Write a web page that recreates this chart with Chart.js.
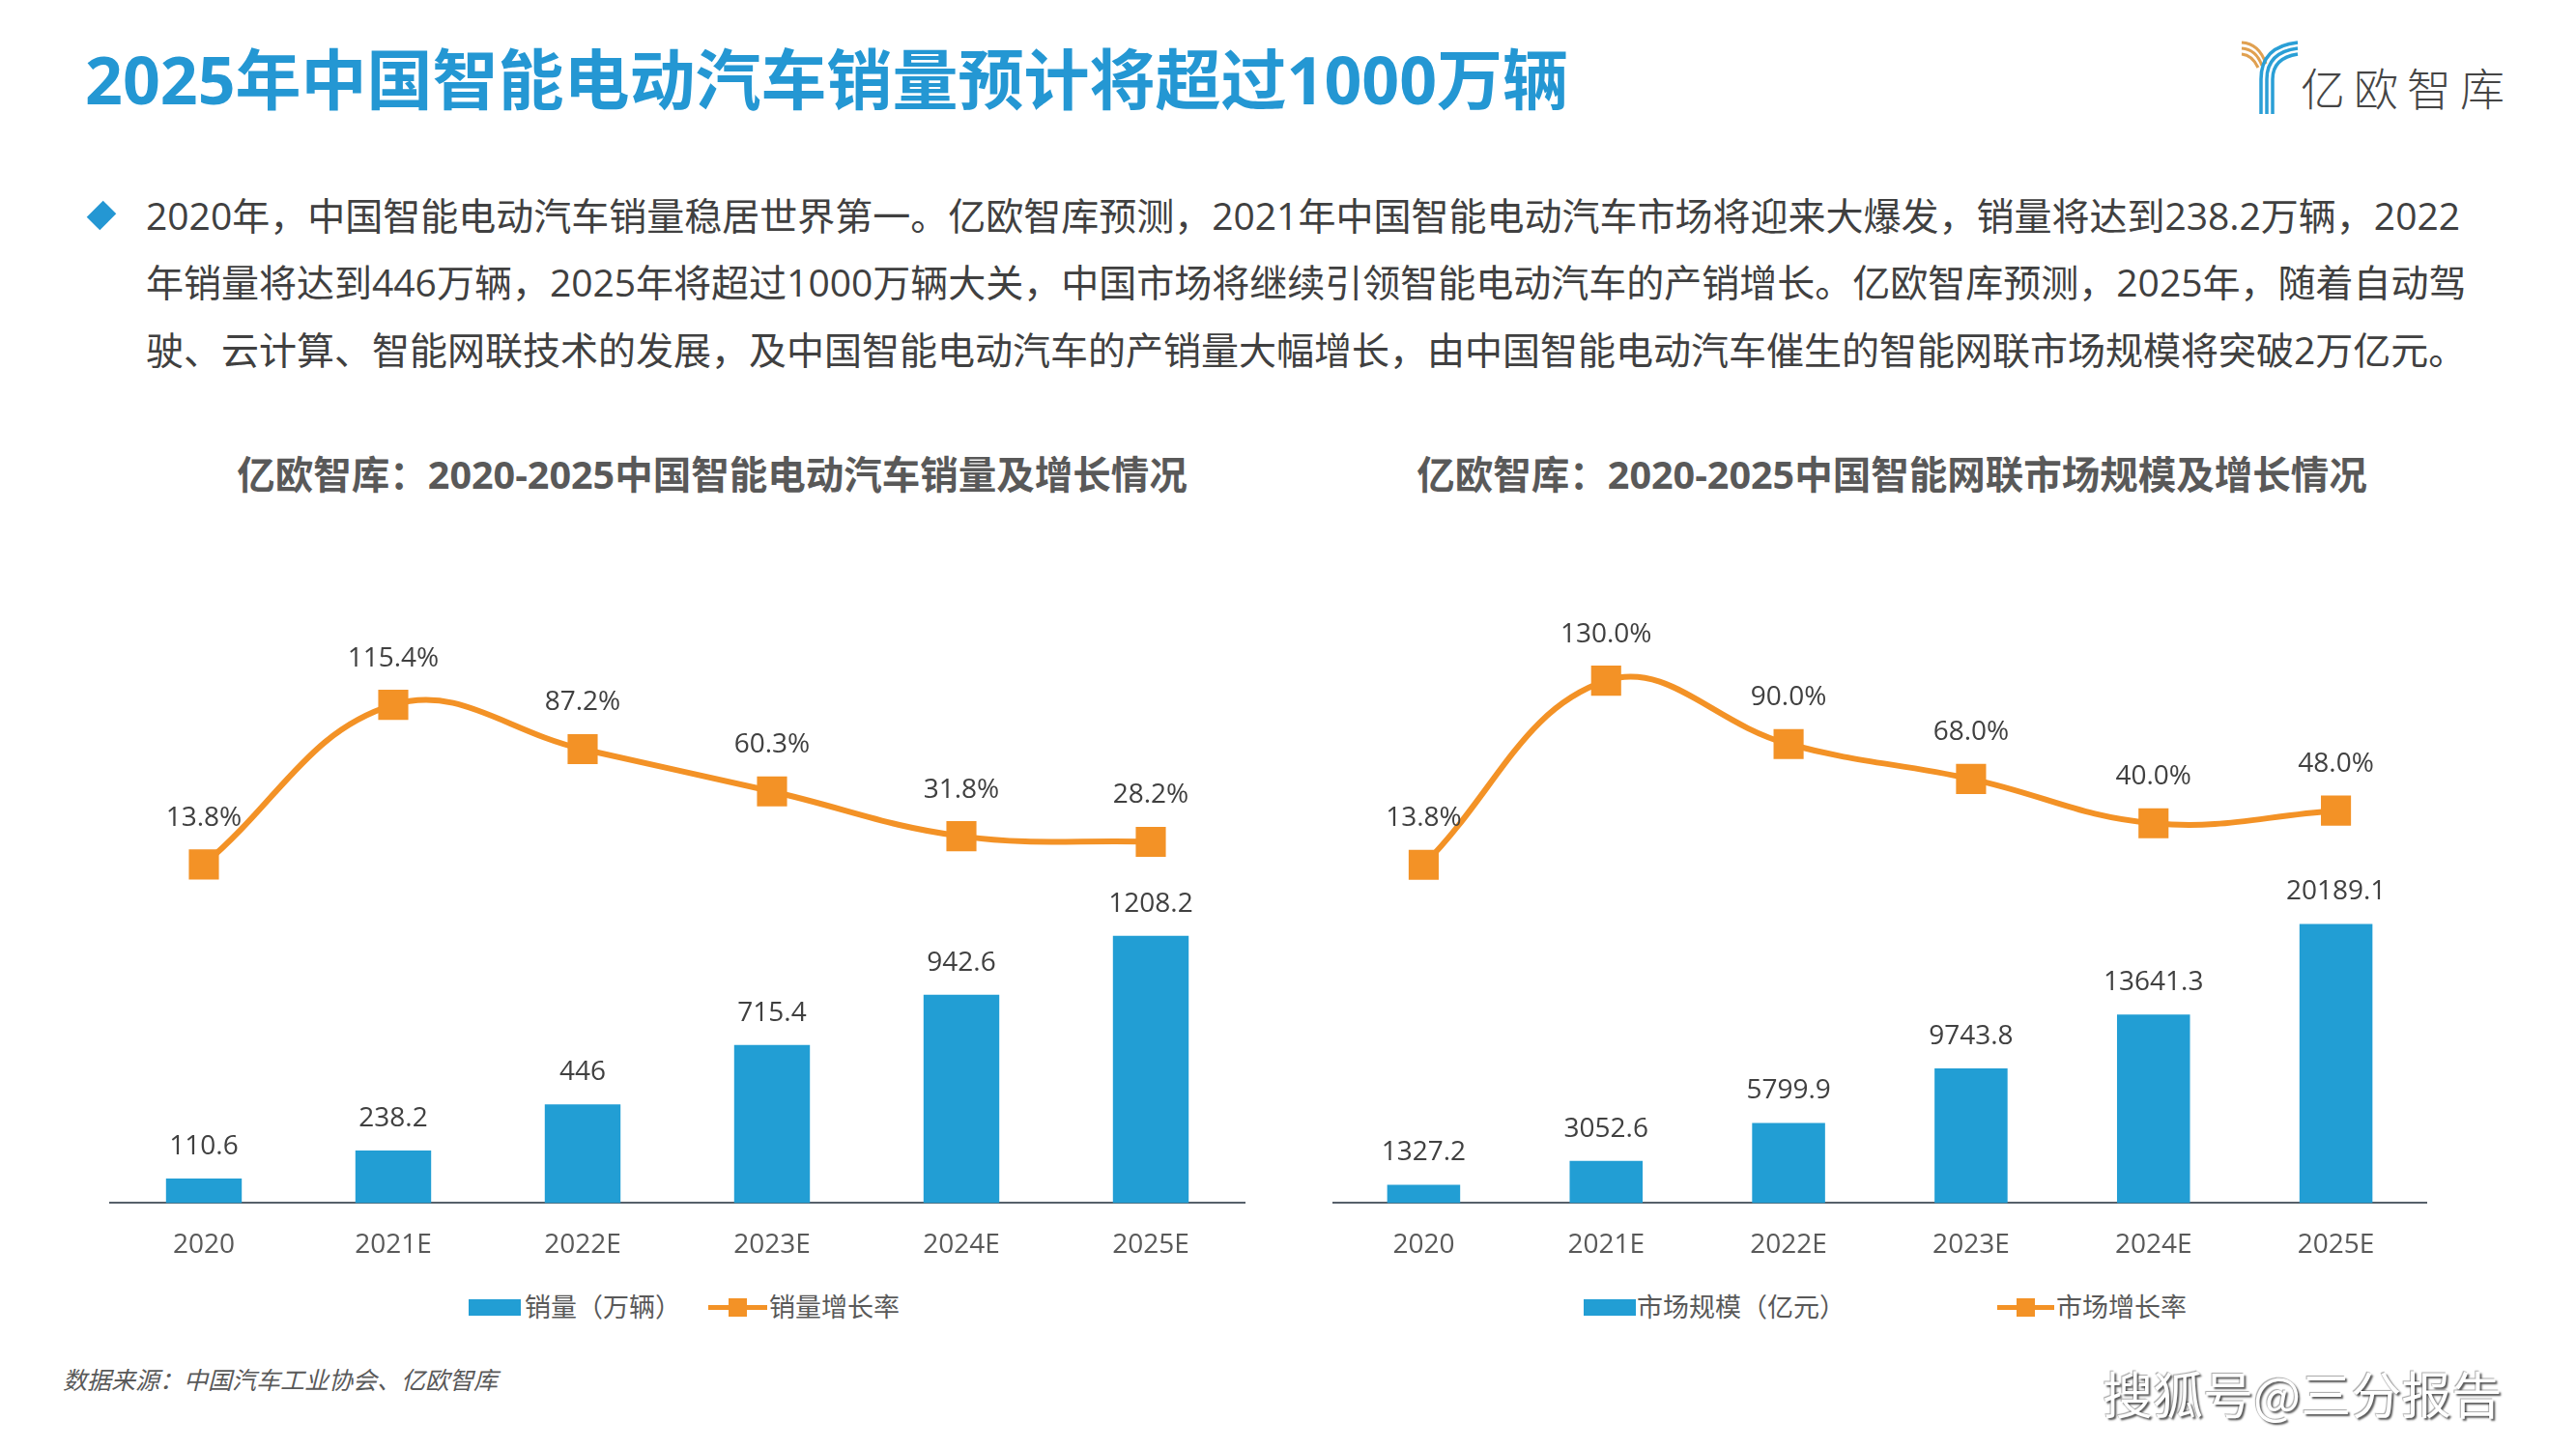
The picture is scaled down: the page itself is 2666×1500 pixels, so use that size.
<!DOCTYPE html>
<html>
<head>
<meta charset="utf-8">
<script src="https://cdn.jsdelivr.net/npm/chart.js@4.4.1/dist/chart.umd.min.js"></script>
<style>
html,body{margin:0;padding:0;background:#ffffff;}
body{width:2666px;height:1500px;position:relative;overflow:hidden;font-family:"Open Sans","Noto Sans CJK SC",sans-serif;}
.abs{position:absolute;white-space:nowrap;}
#title{left:88px;top:48px;font-size:68px;font-weight:700;color:#2497D3;line-height:68px;}
#logoText{left:2381px;top:64px;font-family:"Noto Sans CJK SC",sans-serif;font-weight:300;font-size:46px;line-height:50px;letter-spacing:9px;color:#454545;}
#bullet{left:93px;top:211px;width:24px;height:24px;background:#2497D3;transform:rotate(45deg) scaleX(0.8);}
.body{left:151px;font-size:39px;line-height:70px;color:#404040;}
.just{width:2394px;text-align:justify;text-align-last:justify;}
.ctitle{font-size:39.5px;font-weight:700;color:#595959;line-height:44px;transform:translateX(-50%);}
.legText{font-size:27px;color:#595959;line-height:34px;top:1336px;}
.legBox{top:1345px;width:54px;height:17px;background:#229ED4;}
.legLine{top:1351px;height:5px;background:#F39226;}
.legSq{top:1344px;width:19px;height:19px;background:#F39226;}
#source{left:65px;top:1412px;font-size:25px;font-style:italic;color:#595959;line-height:32px;}
#wm{left:2176px;top:1412px;font-size:52px;line-height:60px;color:#ffffff;font-family:"Noto Sans CJK SC",sans-serif;text-shadow:2px 2px 2px rgba(0,0,0,0.65),-1px -1px 1px rgba(0,0,0,0.35);}
.chartBox{position:absolute;}
</style>
</head>
<body>
<div id="title" class="abs">2025年中国智能电动汽车销量预计将超过1000万辆</div>

<svg class="abs" style="left:2318px;top:40px" width="66" height="80" viewBox="0 0 66 80">
  <g fill="none" stroke-linecap="butt">
    <path d="M2 4 Q20 5 27 26" stroke="#E0A050" stroke-width="3"/>
    <path d="M2 10 Q17 11 23 28" stroke="#E0A050" stroke-width="3"/>
    <path d="M2 16 Q13 17 19 30" stroke="#E0A050" stroke-width="3"/>
    <path d="M22 78 L22 42 Q22 8 60 4" stroke="#2A9FD6" stroke-width="3.5"/>
    <path d="M28 78 L28 42 Q28 14 60 10" stroke="#2A9FD6" stroke-width="3.5"/>
    <path d="M34 78 L34 42 Q34 20 60 16" stroke="#2A9FD6" stroke-width="3.5"/>
  </g>
</svg>
<div id="logoText" class="abs">亿欧智库</div>

<div id="bullet" class="abs"></div>
<div class="abs body just" style="top:188px">2020年，中国智能电动汽车销量稳居世界第一。亿欧智库预测，2021年中国智能电动汽车市场将迎来大爆发，销量将达到238.2万辆，2022</div>
<div class="abs body just" style="top:257px">年销量将达到446万辆，2025年将超过1000万辆大关，中国市场将继续引领智能电动汽车的产销增长。亿欧智库预测，2025年，随着自动驾</div>
<div class="abs body" style="top:327px">驶、云计算、智能网联技术的发展，及中国智能电动汽车的产销量大幅增长，由中国智能电动汽车催生的智能网联市场规模将突破2万亿元。</div>

<div class="abs ctitle" style="left:737px;top:469px">亿欧智库：2020-2025中国智能电动汽车销量及增长情况</div>
<div class="abs ctitle" style="left:1958px;top:469px">亿欧智库：2020-2025中国智能网联市场规模及增长情况</div>

<div class="chartBox" style="left:113px;top:600px;width:1176px;height:733px"><canvas id="c1" width="1176" height="733"></canvas></div>
<div class="chartBox" style="left:1379px;top:600px;width:1133px;height:733px"><canvas id="c2" width="1133" height="733"></canvas></div>

<!-- legends -->
<div class="abs legBox" style="left:485px"></div>
<div class="abs legText" style="left:543px">销量（万辆）</div>
<div class="abs legLine" style="left:733px;width:61px"></div>
<div class="abs legSq" style="left:754px"></div>
<div class="abs legText" style="left:796px">销量增长率</div>

<div class="abs legBox" style="left:1639px"></div>
<div class="abs legText" style="left:1694px">市场规模（亿元）</div>
<div class="abs legLine" style="left:2067px;width:59px"></div>
<div class="abs legSq" style="left:2087px"></div>
<div class="abs legText" style="left:2128px">市场增长率</div>

<div id="source" class="abs">数据来源：中国汽车工业协会、亿欧智库</div>
<div id="wm" class="abs">搜狐号@三分报告</div>

<script>
// ---- data ----
const categories = ['2020', '2021E', '2022E', '2023E', '2024E', '2025E'];
const salesValues = [110.6, 238.2, 446, 715.4, 942.6, 1208.2];
const salesGrowth = [13.8, 115.4, 87.2, 60.3, 31.8, 28.2];
const marketValues = [1327.2, 3052.6, 5799.9, 9743.8, 13641.3, 20189.1];
const marketGrowth = [13.8, 130.0, 90.0, 68.0, 40.0, 48.0];
const salesSeriesName = '销量（万辆）';
const salesGrowthName = '销量增长率';
const marketSeriesName = '市场规模（亿元）';
const marketGrowthName = '市场增长率';

const BLUE = '#229ED4';
const ORANGE = '#F39226';
const FONT = "'Open Sans','Noto Sans CJK SC',sans-serif";

const labelPlugin = {
  id: 'valueLabels',
  afterDatasetsDraw(chart) {
    const ctx = chart.ctx;
    ctx.save();
    ctx.font = '28px ' + FONT;
    ctx.fillStyle = '#404040';
    ctx.textAlign = 'center';
    ctx.textBaseline = 'middle';
    chart.data.datasets.forEach((ds, i) => {
      const meta = chart.getDatasetMeta(i);
      meta.data.forEach((el, j) => {
        const v = ds.data[j];
        let txt, off;
        if (ds.type === 'line') { txt = v.toFixed(1) + '%'; off = 48; }
        else { txt = String(v); off = 33; }
        ctx.fillText(txt, el.x, el.y - off);
      });
    });
    ctx.restore();
  }
};

function build(canvasId, barData, barName, lineData, lineName, barMax, lineMin, lineMax) {
  return new Chart(document.getElementById(canvasId), {
    data: {
      labels: categories,
      datasets: [
        {
          type: 'bar', label: barName, data: barData, yAxisID: 'yBar',
          backgroundColor: BLUE, barPercentage: 0.4, categoryPercentage: 1.0, order: 1
        },
        {
          type: 'line', label: lineName, data: lineData, yAxisID: 'yLine',
          borderColor: ORANGE, borderWidth: 6, tension: 0.4, fill: false,
          pointStyle: 'rect', pointRadius: 22, pointHoverRadius: 22,
          pointBackgroundColor: ORANGE, pointBorderColor: ORANGE, pointBorderWidth: 0, order: 0
        }
      ]
    },
    options: {
      responsive: false,
      animation: false,
      devicePixelRatio: 1,
      layout: { autoPadding: false, padding: { top: 40, left: 0, right: 0, bottom: 0 } },
      plugins: { legend: { display: false }, tooltip: { enabled: false } },
      scales: {
        x: {
          grid: { display: false, drawTicks: false },
          border: { display: true, color: '#56606a', width: 2 },
          ticks: { color: '#595959', font: { family: FONT, size: 28 }, padding: 27 }
        },
        yBar: { display: false, min: 0, max: barMax },
        yLine: { display: false, min: lineMin, max: lineMax }
      }
    },
    plugins: [labelPlugin]
  });
}

build('c1', salesValues, salesSeriesName, salesGrowth, salesGrowthName, 2645, -201.7, 170.5);
build('c2', marketValues, marketSeriesName, marketGrowth, marketGrowthName, 42305, -199.6, 169.4);
</script>
</body>
</html>
